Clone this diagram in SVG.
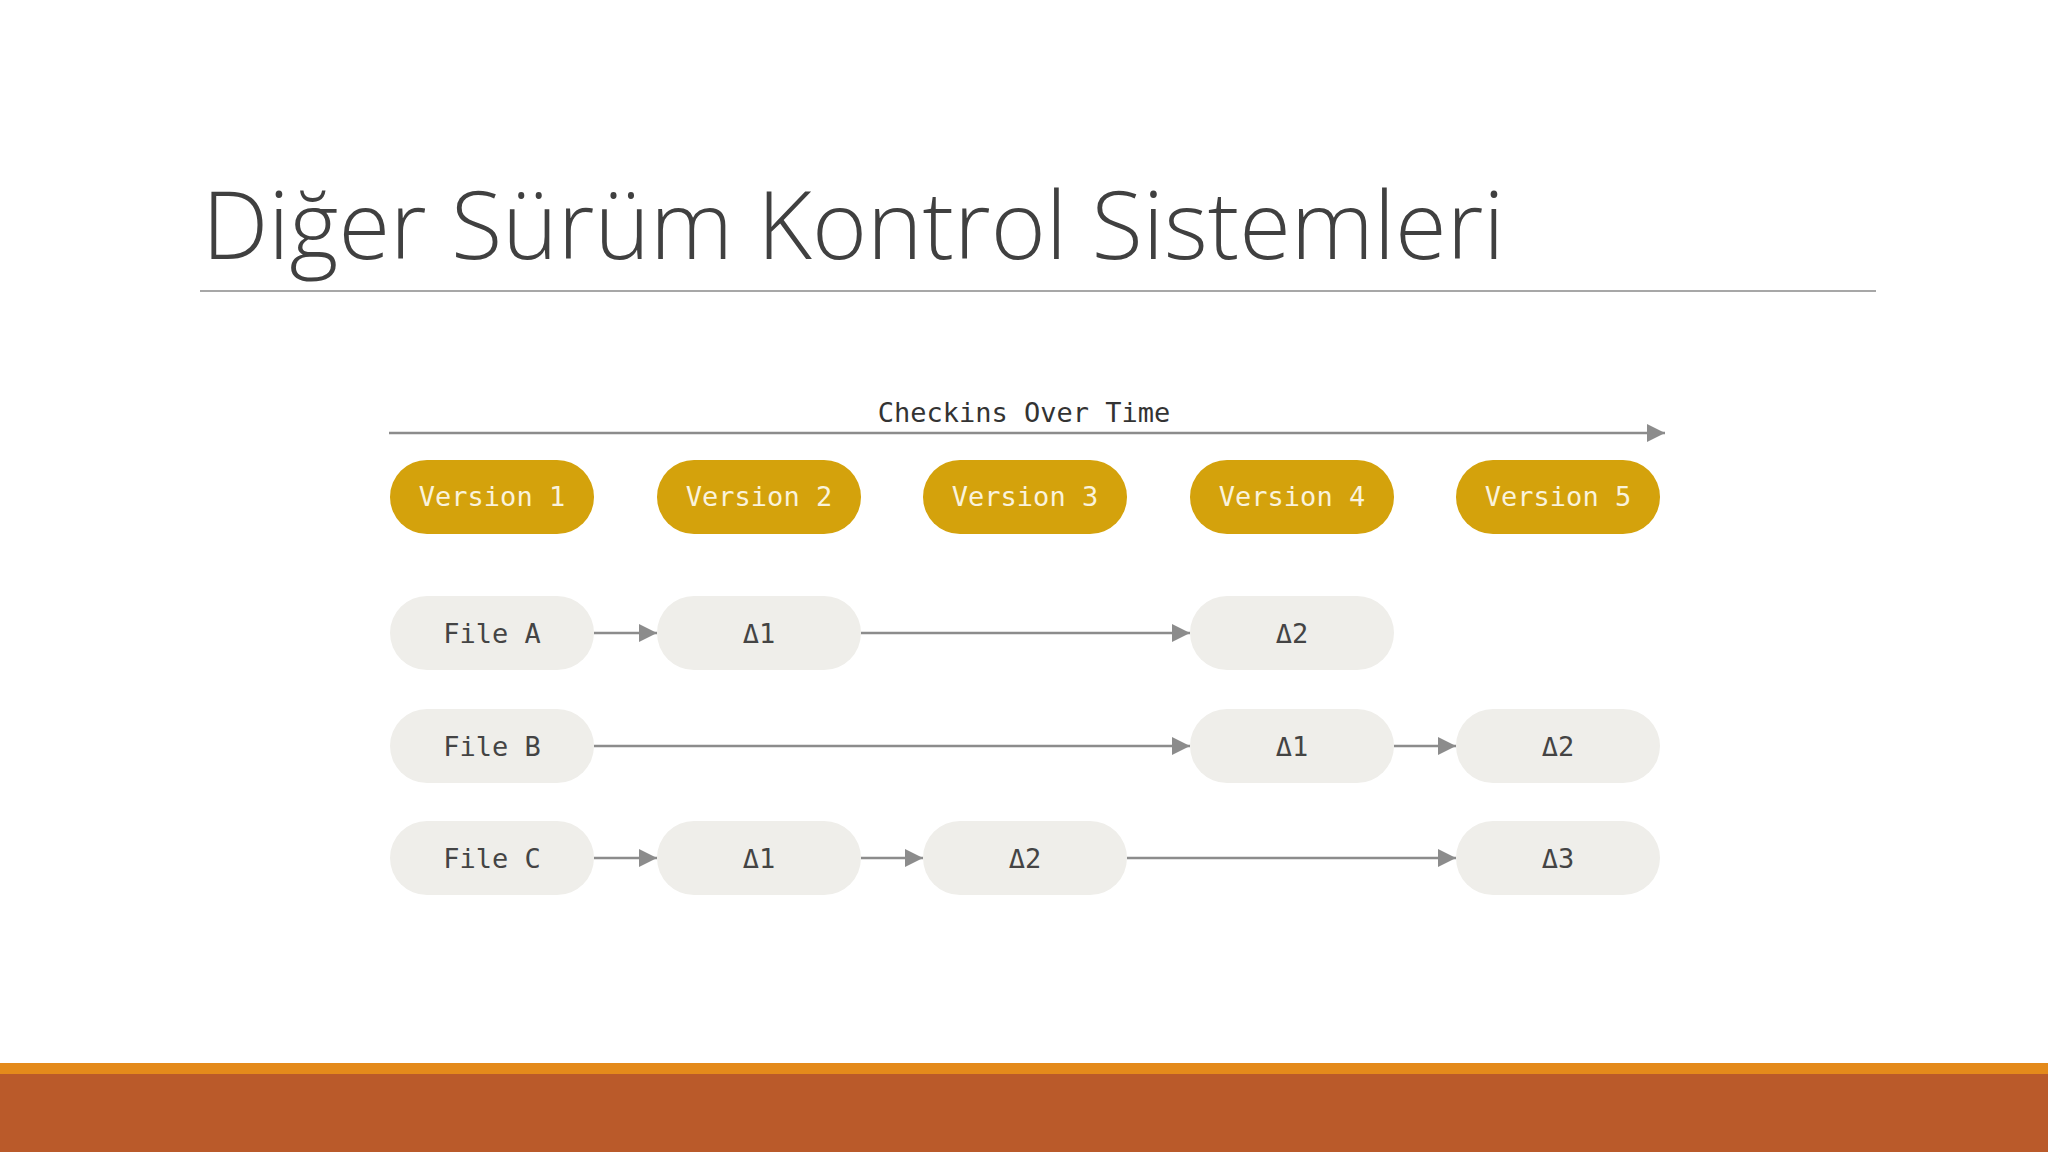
<svg xmlns="http://www.w3.org/2000/svg" width="2048" height="1152" viewBox="0 0 2048 1152">
<style>
.ver rect{fill:#D4A20C}
.ver text{fill:#FAF3DC}
.file rect{fill:#EFEEEA}
.file text{fill:#444}
text.m{font-family:"DejaVu Sans Mono","Liberation Mono",monospace;font-size:27px;text-anchor:middle}
.c line{stroke:#8C8C8C;stroke-width:2.5}
</style>
<defs>
<marker id="ah" viewBox="0 0 10 10" refX="10" refY="5" markerWidth="12" markerHeight="6" markerUnits="userSpaceOnUse" orient="auto"><path d="M0,0 L10,5 L0,10 z" fill="#8C8C8C"/></marker>
<marker id="ah2" viewBox="0 0 10 10" refX="10" refY="5" markerWidth="36" markerHeight="18" markerUnits="userSpaceOnUse" orient="auto"><path d="M0,0 L10,5 L0,10 z" fill="#8C8C8C"/></marker>
</defs>
<rect width="2048" height="1152" fill="#fff"/>
<text x="202" y="259" font-family="Open Sans,Liberation Sans,sans-serif" font-weight="300" font-size="94" fill="#404040">Diğer Sürüm Kontrol Sistemleri</text>
<line x1="200" y1="291" x2="1876" y2="291" stroke="#8a8a8a" stroke-width="1.5"/>
<rect y="1063" width="2048" height="12" fill="#E48A1B"/>
<rect y="1074" width="2048" height="78" fill="#BA5A2A"/>
<text class="m" x="1024" y="422" fill="#333" font-size="26">Checkins Over Time</text>
<g class="c">
<line x1="389" y1="433" x2="1665" y2="433" stroke-width="4" marker-end="url(#ah2)"/>
<line x1="594" y1="633" x2="657" y2="633" marker-end="url(#ah2)"/>
<line x1="861" y1="633" x2="1190" y2="633" marker-end="url(#ah2)"/>
<line x1="594" y1="746" x2="1190" y2="746" marker-end="url(#ah2)"/>
<line x1="1394" y1="746" x2="1456" y2="746" marker-end="url(#ah2)"/>
<line x1="594" y1="858" x2="657" y2="858" marker-end="url(#ah2)"/>
<line x1="861" y1="858" x2="923" y2="858" marker-end="url(#ah2)"/>
<line x1="1127" y1="858" x2="1456" y2="858" marker-end="url(#ah2)"/>
</g>
<g id="v1" class="ver"><rect x="390" y="460" width="204" height="74" rx="37"/><text class="m" x="492" y="506">Version 1</text></g>
<g id="v2" class="ver"><rect x="657" y="460" width="204" height="74" rx="37"/><text class="m" x="759" y="506">Version 2</text></g>
<g id="v3" class="ver"><rect x="923" y="460" width="204" height="74" rx="37"/><text class="m" x="1025" y="506">Version 3</text></g>
<g id="v4" class="ver"><rect x="1190" y="460" width="204" height="74" rx="37"/><text class="m" x="1292" y="506">Version 4</text></g>
<g id="v5" class="ver"><rect x="1456" y="460" width="204" height="74" rx="37"/><text class="m" x="1558" y="506">Version 5</text></g>
<g id="fa" class="file"><rect x="390" y="596" width="204" height="74" rx="37"/><text class="m" x="492" y="643">File A</text></g>
<g id="a1" class="file"><rect x="657" y="596" width="204" height="74" rx="37"/><text class="m" x="759" y="643">Δ1</text></g>
<g id="a2" class="file"><rect x="1190" y="596" width="204" height="74" rx="37"/><text class="m" x="1292" y="643">Δ2</text></g>
<g id="fb" class="file"><rect x="390" y="709" width="204" height="74" rx="37"/><text class="m" x="492" y="756">File B</text></g>
<g id="b1" class="file"><rect x="1190" y="709" width="204" height="74" rx="37"/><text class="m" x="1292" y="756">Δ1</text></g>
<g id="b2" class="file"><rect x="1456" y="709" width="204" height="74" rx="37"/><text class="m" x="1558" y="756">Δ2</text></g>
<g id="fc" class="file"><rect x="390" y="821" width="204" height="74" rx="37"/><text class="m" x="492" y="868">File C</text></g>
<g id="c1" class="file"><rect x="657" y="821" width="204" height="74" rx="37"/><text class="m" x="759" y="868">Δ1</text></g>
<g id="c2" class="file"><rect x="923" y="821" width="204" height="74" rx="37"/><text class="m" x="1025" y="868">Δ2</text></g>
<g id="c3" class="file"><rect x="1456" y="821" width="204" height="74" rx="37"/><text class="m" x="1558" y="868">Δ3</text></g>
</svg>
